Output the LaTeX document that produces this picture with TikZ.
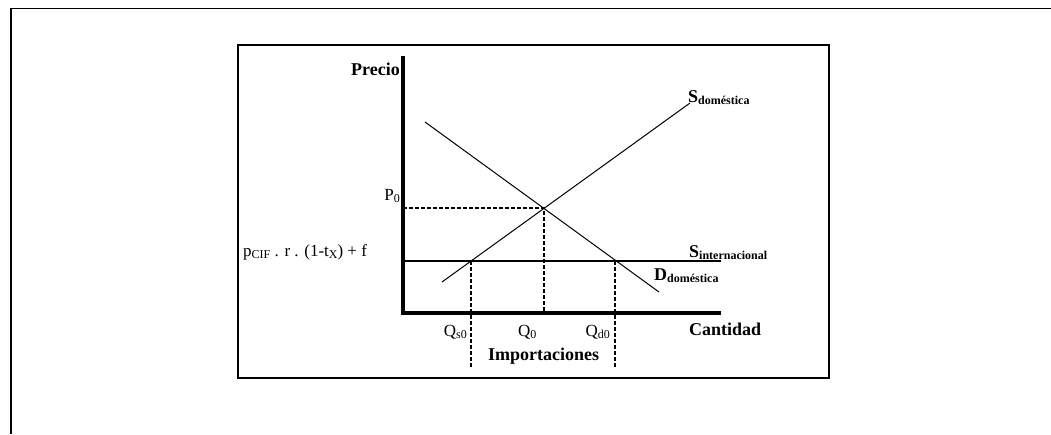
\documentclass[tikz,border=0pt]{standalone}
\usepackage{fontspec}
\setmainfont{Liberation Serif}
\usetikzlibrary{positioning, calc}

\newcommand{\dn}[1]{\raisebox{-0.35ex}{\fontsize{12}{13}\selectfont #1}}

\begin{document}
\begin{tikzpicture}[x=1pt, y=-1pt,
  frame/.style={draw=black, line width=1.5pt},
  axis/.style={draw=black, line width=3.5pt},
  curve/.style={draw=black, line width=1pt},
  world/.style={draw=black, line width=1.5pt},
  guide/.style={draw=black, line width=1.6pt, dash pattern=on 4pt off 2pt},
  lbl/.style={font=\fontsize{17}{20}\selectfont, inner sep=0pt},
  blbl/.style={font=\fontsize{18}{21}\selectfont\bfseries, inner sep=0pt},
]
\useasboundingbox (0,0) rectangle (1051,434);
% ====== FRAMES ======
\draw[frame] (11,434) -- (11,8.5) -- (1051,8.5);
\draw[frame] (238,45) rectangle (829,378);
%
% ====== AXES ======
\coordinate (O) at (403,313);
\coordinate (ytop) at (403,56);
\coordinate (xend) at (721,313);
\draw[axis] (ytop) -- (O) -- (xend);
\node[blbl, anchor=base east] (precio) at (400,75) {Precio};
\node[blbl, anchor=base west] (cantidad) at (689,335) {Cantidad};
%
% ====== CURVES ======
\coordinate (sLow) at (442,282);
\coordinate (sHigh) at (690,103);
\coordinate (dHigh) at (425,122);
\coordinate (dLow) at (659,292);
\coordinate (wLeft) at (403,261);
\coordinate (wRight) at (721,261);
\draw[curve] (sLow) -- (sHigh);
\draw[curve] (dHigh) -- (dLow);
\draw[world] (wLeft) -- (wRight);
\node[blbl, anchor=base west] (sdom) at (688,102) {S\dn{doméstica}};
\node[blbl, anchor=base west] (sint) at (689,257) {S\dn{internacional}};
\node[blbl, anchor=base west] (ddom) at (654,280) {D\dn{doméstica}};
%
% ====== EQUILIBRIUM AND IMPORTS ======
\coordinate (eq) at (544,208);
\coordinate (p0) at (403,208);
\coordinate (q0) at (544,313);
\coordinate (qsTop) at (471,261);
\coordinate (qsBot) at (471,367);
\coordinate (qdTop) at (615,261);
\coordinate (qdBot) at (615,367);
\draw[guide] (p0) -- (eq) -- (q0);
\draw[guide] (qsTop) -- (qsBot);
\draw[guide] (qdTop) -- (qdBot);
\node[lbl, anchor=base east] (plabel) at (400,200) {P\dn{0}};
\node[lbl, anchor=base west] (pworld) at (243,256)
  {p\dn{CIF} . r . (1-t\dn{X}) + f};
\node[lbl, anchor=base east] (qslabel) at (467,336) {Q\dn{s0}};
\node[lbl, anchor=base west] (q0label) at (518,336) {Q\dn{0}};
\node[lbl, anchor=base east] (qdlabel) at (610,336) {Q\dn{d0}};
\node[blbl, anchor=base west] (imports) at (488,360) {Importaciones};
\end{tikzpicture}
\end{document}
